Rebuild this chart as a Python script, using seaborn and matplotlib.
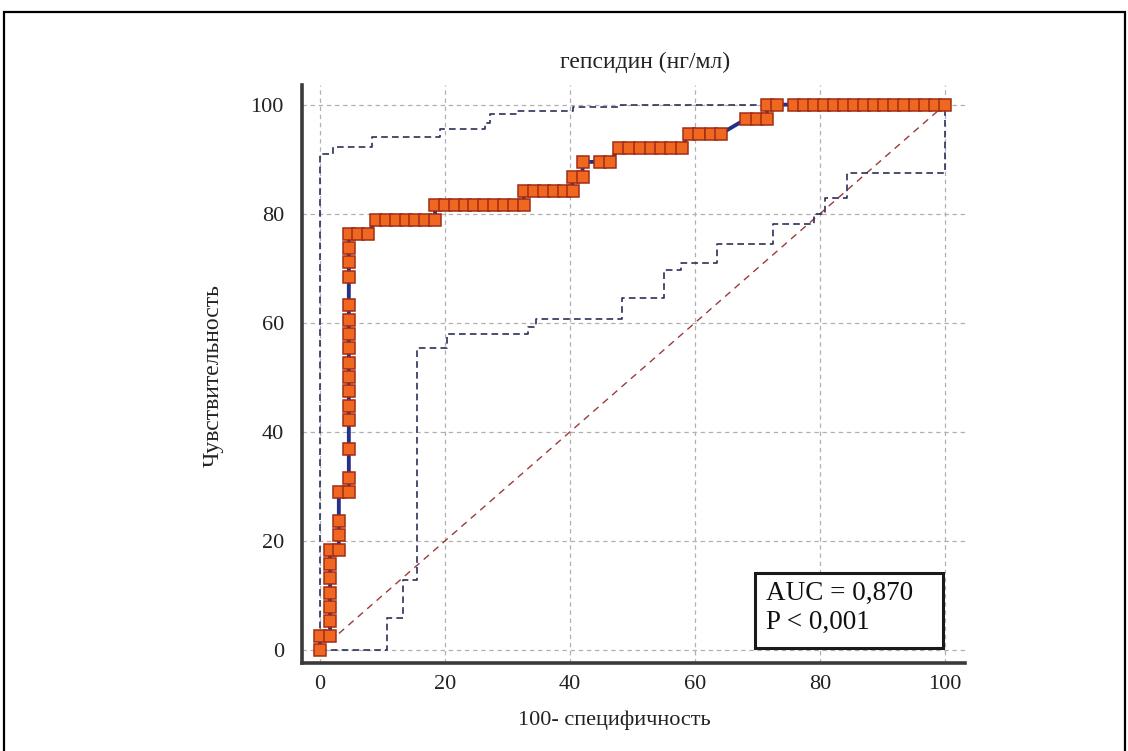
import matplotlib
matplotlib.use("Agg")
import matplotlib.pyplot as plt
import seaborn as sns
from matplotlib.patches import Rectangle
from matplotlib.ticker import MultipleLocator

# ROC points (100 - specificity, sensitivity)
fpr = [0, 0, 1.6, 1.6, 1.6, 1.6, 1.6, 1.6, 1.6, 3.0, 3.0, 3.0, 3.0,
       4.6, 4.6, 4.6, 4.6, 4.6, 4.6, 4.6, 4.6, 4.6, 4.6, 4.6, 4.6, 4.6, 4.6, 4.6, 4.6,
       6.1, 7.7,
       8.9, 10.5, 12.1, 13.7, 15.2, 16.8, 18.4,
       18.4, 20.0, 21.6, 23.2, 24.7, 26.3, 27.9, 29.5, 31.0, 32.6,
       32.6, 34.2, 35.8, 37.4, 39.0, 40.4,
       40.4, 42.0,
       42.0, 44.8, 46.4,
       47.8, 49.5, 51.2, 52.9, 54.5, 56.2, 57.9,
       59.0, 60.7, 62.5, 64.2,
       68.2, 69.9, 71.5,
       71.5, 73.1, 75.8, 77.4, 79.0, 80.6, 82.2, 83.8, 85.4, 87.0, 88.7,
       90.3, 91.9, 93.5, 95.2, 96.8, 98.4, 100.0]
tpr = [0, 2.6, 2.6, 5.3, 7.9, 10.5, 13.2, 15.8, 18.4, 18.4, 21.1, 23.7, 28.9,
       28.9, 31.6, 36.8, 42.1, 44.7, 47.4, 50.0, 52.6, 55.3, 57.9, 60.5, 63.2, 68.4, 71.1, 73.7, 76.3,
       76.3, 76.3,
       78.9, 78.9, 78.9, 78.9, 78.9, 78.9, 78.9,
       81.6, 81.6, 81.6, 81.6, 81.6, 81.6, 81.6, 81.6, 81.6, 81.6,
       84.2, 84.2, 84.2, 84.2, 84.2, 84.2,
       86.8, 86.8,
       89.5, 89.5, 89.5,
       92.1, 92.1, 92.1, 92.1, 92.1, 92.1, 92.1,
       94.7, 94.7, 94.7, 94.7,
       97.4, 97.4, 97.4,
       100, 100, 100, 100, 100, 100, 100, 100, 100, 100, 100,
       100, 100, 100, 100, 100, 100, 100]

# 95% confidence bounds (step lines)
upper_x = [0, 0, 2.1, 8.3, 19.2, 26.4, 27.2, 31.5, 40.5, 48.0, 100]
upper_y = [0, 91.0, 92.3, 94.0, 95.6, 96.7, 98.2, 98.8, 99.6, 100, 100]
lower_x = [0, 10.7, 13.3, 15.5, 20.3, 33.2, 34.5, 48.3, 55.0, 57.8, 63.5, 72.4, 79.0, 80.8, 84.3, 100]
lower_y = [0, 5.9, 12.8, 55.3, 58.0, 59.3, 60.6, 64.6, 69.6, 70.9, 74.5, 78.2, 80.0, 82.8, 87.4, 100]

diag = [0, 100]
ticks = [0, 20, 40, 60, 80, 100]

auc_text = "AUC = 0,870"
p_text = "P < 0,001"

sns.set_style("white")
plt.rcParams["font.family"] = ["Liberation Serif", "DejaVu Serif"]

fig = plt.figure(figsize=(11.28, 7.51), dpi=100)
ax = fig.add_axes([0.2677, 0.1172, 0.5878, 0.7696])

ax.grid(True, which="major", linestyle=(0, (3.5, 3)), color="#b0b0b0", linewidth=0.9)
ax.set_axisbelow(True)

sns.lineplot(x=diag, y=diag, ax=ax, color="#9b3b3b", linewidth=1.0,
             linestyle=(0, (5, 4)), zorder=2)
sns.lineplot(x=upper_x, y=upper_y, ax=ax, estimator=None, sort=False,
             drawstyle="steps-post", color="#2c3158", linewidth=1.2,
             linestyle=(0, (4, 2.5)), zorder=2)
sns.lineplot(x=lower_x, y=lower_y, ax=ax, estimator=None, sort=False,
             drawstyle="steps-post", color="#2c3158", linewidth=1.2,
             linestyle=(0, (4, 2.5)), zorder=2)
sns.lineplot(x=fpr, y=tpr, ax=ax, estimator=None, sort=False,
             color="#25308a", linewidth=2.8, marker="s", markersize=9,
             markerfacecolor="#f0671f", markeredgecolor="#a12c17",
             markeredgewidth=1.1, zorder=4)

ax.set_xlim(-2.9, 103.2)
ax.set_ylim(-2.4, 103.6)
ax.set_xticks(ticks)
ax.set_yticks(ticks)
ax.xaxis.set_minor_locator(MultipleLocator(5))
ax.yaxis.set_minor_locator(MultipleLocator(5))
ax.tick_params(which="major", direction="in", length=13, width=2.2,
               color="#3a3a3a", labelsize=16, labelcolor="#222222")
ax.tick_params(axis="x", which="major", pad=9)
ax.tick_params(axis="y", which="major", pad=13)
ax.tick_params(which="minor", direction="in", length=5, width=1.4, color="#3a3a3a")
sns.despine(ax=ax)
for side in ["left", "bottom"]:
    ax.spines[side].set_linewidth(2.6)
    ax.spines[side].set_color("#3a3a3a")
ax.set_xlabel("")
ax.set_ylabel("")

# AUC box
ax.add_patch(Rectangle((69.6, 0.4), 30.1, 13.7, facecolor="white",
                       edgecolor="#1a1a1a", linewidth=2.2, zorder=6))
ax.text(71.4, 10.4, auc_text, fontsize=19.5, va="center", ha="left", color="#111111", zorder=7)
ax.text(71.4, 5.1, p_text, fontsize=19.5, va="center", ha="left", color="#111111", zorder=7)

fig.text(0.572, 0.917, "гепсидин (нг/мл)", fontsize=17, ha="center", va="center", color="#222222")
fig.text(0.545, 0.041, "100- специфичность", fontsize=16, ha="center", va="center", color="#222222")
fig.text(0.189, 0.50, "Чувствительность", fontsize=17, ha="center", va="center",
         rotation=90, color="#222222")

# outer frame
fig.patches.append(Rectangle((4 / 1128, -0.02), 1121 / 1128, 0.984 + 0.02,
                             transform=fig.transFigure, fill=False,
                             edgecolor="black", linewidth=1.6))

fig.savefig("out.png", dpi=100)
